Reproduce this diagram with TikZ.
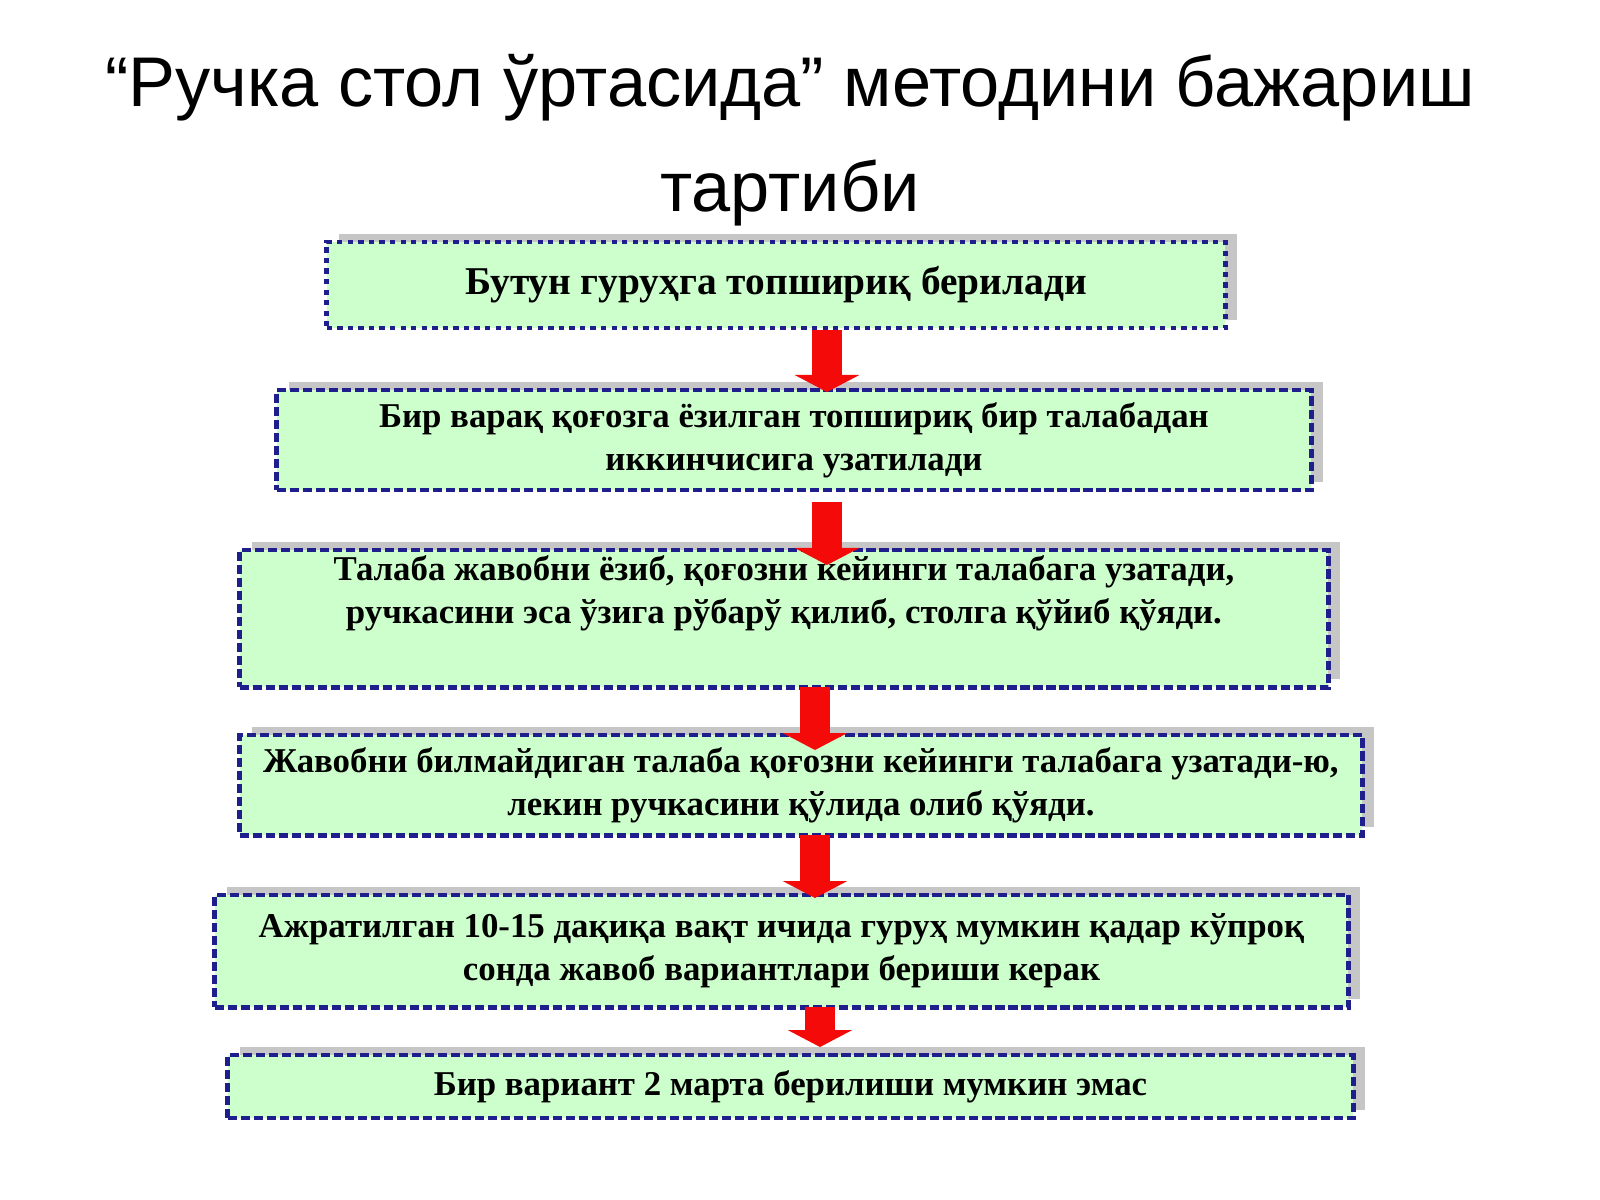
\documentclass[tikz,border=0pt]{standalone}
\usepackage{fontspec}
\setmainfont{Liberation Serif}
\newfontfamily\titlefont{Liberation Sans}
\usetikzlibrary{arrows.meta,positioning}
\definecolor{boxfill}{RGB}{204,255,204}
\definecolor{boxline}{RGB}{30,30,140}
\definecolor{arrred}{RGB}{245,10,10}
\tikzset{
  stepbox/.style={draw=boxline,fill=boxfill,line width=1.4pt,dash pattern=on 2.6pt off 1.1pt,
    align=center,font=\bfseries\fontsize{9.9}{12.2}\selectfont,inner sep=0pt,
    preaction={fill=gray!45,transform canvas={xshift=0.12cm,yshift=0.08cm}}},
  downarrow/.style={draw=arrred,line width=0.3cm,-{Triangle[width=0.64cm,length=0.17cm]}}
}
\begin{document}
\begin{tikzpicture}[x=0.01cm,y=-0.01cm]
\useasboundingbox (0,0) rectangle (1600,1200);
\node[font=\titlefont\fontsize{20}{30}\selectfont,align=center] (title) at (790,140)
  {“Ручка стол ўртасида” методини бажариш\\тартиби};
\node[stepbox,dash pattern=on 1.5pt off 1.5pt,minimum width=8.98cm,minimum height=0.86cm,
  font=\bfseries\fontsize{11.2}{13}\selectfont] (b1) at (776,285)
  {Бутун гуруҳга топшириқ берилади};
\node[stepbox,minimum width=10.34cm,minimum height=1.0cm] (b2) at (794,440)
  {Бир варақ қоғозга ёзилган топшириқ бир талабадан\\иккинчисига узатилади};
\node[stepbox,minimum width=10.88cm,minimum height=1.37cm] (b3) at (784,618.5)
  {Талаба жавобни ёзиб, қоғозни кейинги талабага узатади,\\ручкасини эса ўзига рўбарў қилиб, столга қўйиб қўяди.\\[0.45em]};
\node[stepbox,minimum width=11.22cm,minimum height=1.0cm] (b4) at (801,785)
  {Жавобни билмайдиган талаба қоғозни кейинги талабага узатади-ю,\\лекин ручкасини қўлида олиб қўяди.};
\node[stepbox,minimum width=11.33cm,minimum height=1.12cm] (b5) at (781.5,951)
  {Ажратилган 10-15 дақиқа вақт ичида гуруҳ мумкин қадар кўпроқ\\сонда жавоб вариантлари бериши керак};
\node[stepbox,minimum width=11.25cm,minimum height=0.63cm] (b6) at (790.5,1086.5)
  {Бир вариант 2 марта берилиши мумкин эмас};
\draw[downarrow] (827,330) -- (827,392);
\draw[downarrow] (827,502) -- (827,565);
\draw[downarrow] (815,687) -- (815,750);
\draw[downarrow] (815,835) -- (815,898);
\draw[downarrow] (820,1007) -- (820,1047);
\end{tikzpicture}
\end{document}
